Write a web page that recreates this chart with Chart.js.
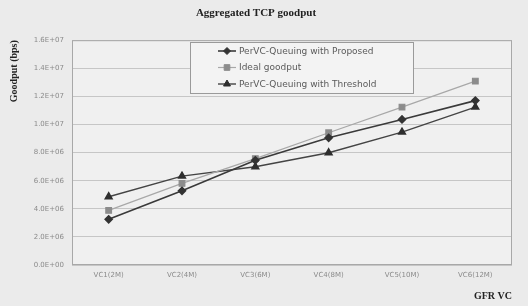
<!DOCTYPE html>
<html>
<head>
<meta charset="utf-8">
<script src="https://cdn.jsdelivr.net/npm/chart.js@4/dist/chart.umd.min.js"></script>
<style>
  html, body { margin: 0; padding: 0; background: #ebebeb; }
  #wrap { width: 528px; height: 306px; position: relative; }
</style>
</head>
<body>
<div id="wrap"><canvas id="chart"></canvas></div>
<script>
// data
const categories = ['VC1(2M)', 'VC2(4M)', 'VC3(6M)', 'VC4(8M)', 'VC5(10M)', 'VC6(12M)'];
const proposed = [3.25e6, 5.28e6, 7.45e6, 9.05e6, 10.36e6, 11.7e6];
const ideal = [3.89e6, 5.81e6, 7.57e6, 9.41e6, 11.24e6, 13.09e6];
const threshold = [4.86e6, 6.33e6, 6.99e6, 7.99e6, 9.46e6, 11.24e6];
const yTicks = [0, 2e6, 4e6, 6e6, 8e6, 10e6, 12e6, 14e6, 16e6];

function sci(v) {
    const parts = Number(v).toExponential(1).toUpperCase().split('E');
    let exp = parts[1];
    const sign = exp[0] === '-' ? '-' : '+';
    exp = exp.replace(/[+-]/, '');
    if (exp.length < 2) exp = '0' + exp;
    return parts[0] + 'E' + sign + exp;
}

// plot background + frame
const plotFrame = {
    id: 'plotFrame',
    beforeDraw(chart) {
        const { ctx, chartArea: a } = chart;
        ctx.save();
        ctx.fillStyle = '#f0f0f0';
        ctx.fillRect(a.left, a.top, a.right - a.left, a.bottom - a.top);
        ctx.restore();
    },
    afterDatasetsDraw(chart) {
        const { ctx, chartArea: a } = chart;
        ctx.save();
        ctx.strokeStyle = '#a8a8a8';
        ctx.lineWidth = 1;
        ctx.strokeRect(a.left + 0.5, a.top + 0.5, a.right - a.left - 1, a.bottom - a.top - 1);
        ctx.restore();
    }
};

// legend box sitting inside the plot
const boxLegend = {
    id: 'boxLegend',
    afterDraw(chart) {
        const { ctx } = chart;
        const x = 190, y = 42, w = 223, h = 51;
        ctx.save();
        ctx.fillStyle = '#f3f3f3';
        ctx.fillRect(x, y, w, h);
        ctx.strokeStyle = '#9a9a9a';
        ctx.lineWidth = 1;
        ctx.strokeRect(x + 0.5, y + 0.5, w, h);
        ctx.font = '9px "DejaVu Sans", sans-serif';
        ctx.textBaseline = 'middle';
        chart.data.datasets.forEach((ds, i) => {
            const cy = y + 9 + i * 16.5;
            ctx.strokeStyle = ds.borderColor;
            ctx.lineWidth = ds.borderWidth;
            ctx.beginPath();
            ctx.moveTo(218, cy);
            ctx.lineTo(236, cy);
            ctx.stroke();
            ctx.fillStyle = ds.pointBackgroundColor;
            ctx.strokeStyle = ds.pointBorderColor;
            ctx.lineWidth = 1;
            Chart.helpers.drawPoint(ctx, { pointStyle: ds.pointStyle, radius: ds.pointRadius, borderWidth: 1 }, 227, cy);
            ctx.fillStyle = '#5a5a5a';
            ctx.fillText(ds.label, 239, cy + 0.5);
        });
        ctx.restore();
    }
};

new Chart(document.getElementById('chart'), {
    type: 'line',
    data: {
        labels: categories,
        datasets: [{
            label: 'PerVC-Queuing with Proposed',
            data: proposed,
            borderColor: '#3a3a3a',
            borderWidth: 1.6,
            pointStyle: 'rectRot',
            pointRadius: 3.5,
            pointBackgroundColor: '#333',
            pointBorderColor: '#333'
        }, {
            label: 'Ideal goodput',
            data: ideal,
            borderColor: '#a8a8a8',
            borderWidth: 1.2,
            pointStyle: 'rect',
            pointRadius: 4,
            pointBackgroundColor: '#8c8c8c',
            pointBorderColor: '#8c8c8c'
        }, {
            label: 'PerVC-Queuing with Threshold',
            data: threshold,
            borderColor: '#444',
            borderWidth: 1.4,
            pointStyle: 'triangle',
            pointRadius: 4,
            pointBackgroundColor: '#2e2e2e',
            pointBorderColor: '#2e2e2e'
        }]
    },
    options: {
        responsive: true,
        maintainAspectRatio: false,
        animation: false,
        layout: { padding: { left: 0, right: 16, top: 0, bottom: 0 } },
        plugins: {
            legend: { display: false },
            tooltip: { enabled: false },
            title: {
                display: true,
                text: 'Aggregated TCP goodput',
                color: '#222',
                font: { family: '"Liberation Serif", serif', size: 11, weight: 'bold' },
                padding: { top: 7, bottom: 20 }
            }
        },
        scales: {
            x: {
                offset: true,
                grid: { display: false, drawTicks: false },
                border: { display: false },
                ticks: { color: '#8a8a8a', font: { family: '"DejaVu Sans", sans-serif', size: 7 }, padding: 6, maxRotation: 0 },
                title: {
                    display: true,
                    text: 'GFR VC',
                    align: 'end',
                    color: '#222',
                    font: { family: '"Liberation Serif", serif', size: 10, weight: 'bold' },
                    padding: { top: 8 }
                },
                afterFit(scale) { scale.height = 41; }
            },
            y: {
                min: 0,
                max: 16e6,
                afterBuildTicks(scale) { scale.ticks = yTicks.map(v => ({ value: v })); },
                grid: { color: '#c6c6c6', drawTicks: false },
                border: { display: false },
                ticks: { color: '#8a8a8a', font: { family: '"DejaVu Sans", sans-serif', size: 7 }, padding: 8, callback: v => sci(v) },
                title: {
                    display: true,
                    text: 'Goodput (bps)',
                    align: 'end',
                    color: '#222',
                    font: { family: '"Liberation Serif", serif', size: 10, weight: 'bold' },
                    padding: { top: 8, bottom: 2 }
                },
                afterFit(scale) { scale.width = 72; }
            }
        }
    },
    plugins: [plotFrame, boxLegend]
});
</script>
</body>
</html>
